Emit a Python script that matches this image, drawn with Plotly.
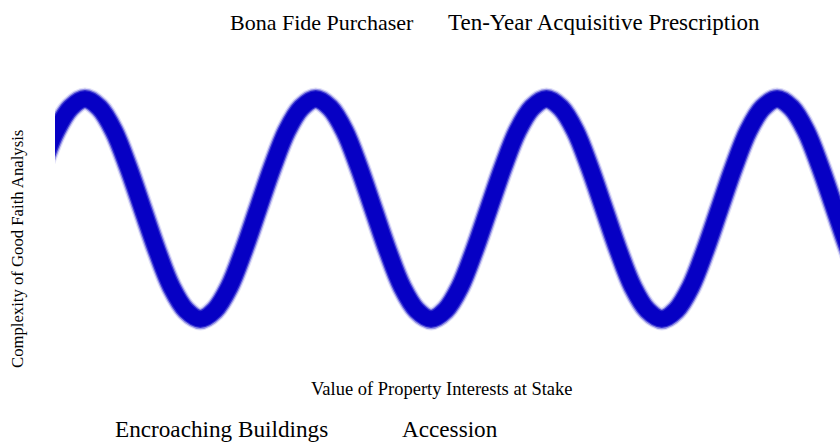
import plotly.graph_objects as go

# sample positions (in steps of 1/16 of a wave period) and curve heights
x_steps = [0, 1, 2, 3, 4, 5, 6, 7, 8, 9, 10, 11, 12, 13, 14, 15,
           16, 17, 18, 19, 20, 21, 22, 23, 24, 25, 26, 27, 28, 29, 30, 31,
           32, 33, 34, 35, 36, 37, 38, 39, 40, 41, 42, 43, 44, 45, 46, 47,
           48, 49, 50, 51, 52, 53, 54, 55, 56, 57, 58, 59, 60]
y_vals = [0, 0.38, 0.71, 0.92, 1, 0.92, 0.71, 0.38, 0, -0.38, -0.71, -0.92, -1, -0.92, -0.71, -0.38,
          0, 0.38, 0.71, 0.92, 1, 0.92, 0.71, 0.38, 0, -0.38, -0.71, -0.92, -1, -0.92, -0.71, -0.38,
          0, 0.38, 0.71, 0.92, 1, 0.92, 0.71, 0.38, 0, -0.38, -0.71, -0.92, -1, -0.92, -0.71, -0.38,
          0, 0.38, 0.71, 0.92, 1, 0.92, 0.71, 0.38, 0, -0.38, -0.71, -0.92, -1]

top_labels = ["Bona Fide Purchaser", "Ten-Year Acquisitive Prescription"]
top_label_x = [0.3395, 0.699]
top_label_size = [22, 23]
bottom_labels = ["Encroaching Buildings", "Accession"]
bottom_label_x = [0.2121, 0.5032]
x_title = "Value of Property Interests at Stake"
y_title = "Complexity of Good Faith Analysis"

FONT = "Liberation Serif, Times New Roman, serif"
BLUE = "6,0,196"

fig = go.Figure()
# soft-edged thick line: layered strokes
for w, a in [(23, 0.12), (20.5, 0.35), (18, 0.7), (15.5, 1.0)]:
    fig.add_trace(go.Scatter(
        x=x_steps, y=y_vals, mode="lines",
        line=dict(color=f"rgba({BLUE},{a})", width=w, shape="spline", smoothing=1),
        hoverinfo="skip", showlegend=False))

annotations = []
for t, xp, sz in zip(top_labels, top_label_x, top_label_size):
    annotations.append(dict(text=t, x=xp, y=1.0526, xref="paper", yref="paper",
                            xanchor="center", yanchor="middle", showarrow=False,
                            font=dict(family=FONT, size=sz, color="black")))
for t, xp in zip(bottom_labels, bottom_label_x):
    annotations.append(dict(text=t, x=xp, y=-0.1375, xref="paper", yref="paper",
                            xanchor="center", yanchor="middle", showarrow=False,
                            font=dict(family=FONT, size=23.2, color="black")))
annotations.append(dict(text=x_title, x=0.4924, y=-0.0205, xref="paper", yref="paper",
                        xanchor="center", yanchor="middle", showarrow=False,
                        font=dict(family=FONT, size=18.5, color="black")))
annotations.append(dict(text=y_title, x=-0.0471, y=0.389, xref="paper", yref="paper",
                        xanchor="center", yanchor="middle", showarrow=False, textangle=-90,
                        font=dict(family=FONT, size=16.7, color="black")))

fig.update_layout(
    width=840, height=442,
    margin=dict(l=55, r=0, t=40, b=60),
    paper_bgcolor="white", plot_bgcolor="white",
    xaxis=dict(range=[1.92, 56.36], showgrid=False, zeroline=False,
               showticklabels=False, showline=False, ticks=""),
    yaxis=dict(range=[-1.573, 1.536], showgrid=False, zeroline=False,
               showticklabels=False, showline=False, ticks=""),
    annotations=annotations,
)

fig.write_html("out.html", config={"displayModeBar": False},
               post_script="document.body.style.margin='0';")
